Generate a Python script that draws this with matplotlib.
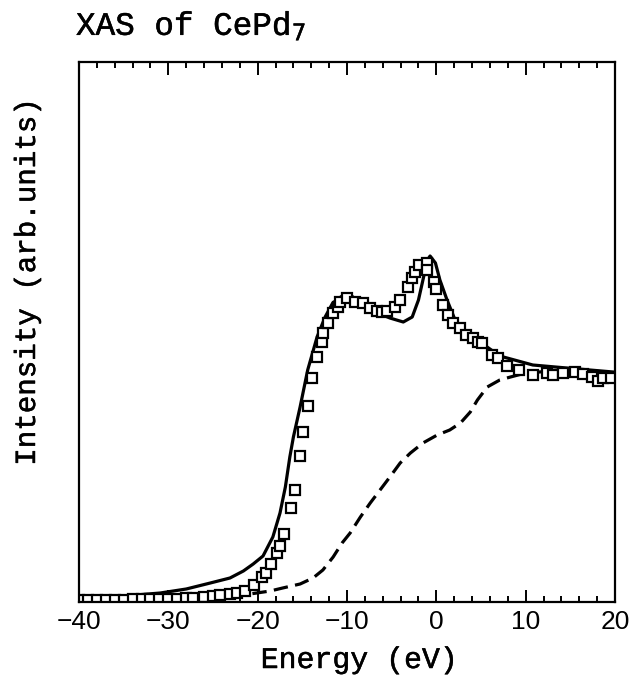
import numpy as np
import matplotlib
matplotlib.use("Agg")
import matplotlib.pyplot as plt
import matplotlib.patheffects as pe

# solid line: calculated spectrum
calc_e = [-40, -35, -30.9, -28, -25.3, -23.1, -21.6, -20.5, -19.4, -18.3, -17.5, -16.9, -16.4, -16.0,
          -15.25, -14.4, -13.35, -12.45, -11.6, -10.4, -9.5, -8.5, -7.1, -5.2, -3.7, -2.7, -2.0, -1.5,
          -1.0, -0.7, -0.1, 0.4, 1.2, 2.1, 3.4, 4.9, 7.1, 10.8, 14.6, 19.8]
calc_i = [4, 6, 9, 13, 19, 24, 31, 38, 46, 65, 89, 115, 145, 165,
          195, 232, 265, 285, 299, 307, 306, 300, 291, 284, 280, 285, 302, 322,
          342, 346, 339, 322, 302, 282, 269, 260, 246, 237, 234, 230]

# dashed line: second component
dash_e = [-40, -30, -24, -20.1, -18.6, -17.2, -15.25, -13.8, -12.7, -11.55, -10.55, -9.65, -8.5,
          -7.4, -6.3, -5.2, -4.05, -2.9, -1.5, 0.1, 1.5, 2.7, 3.8, 4.6, 5.7, 7.1, 8.3, 10, 13, 16, 20]
dash_i = [1, 2, 4, 9, 11, 14, 18, 24, 32, 45, 59, 69, 85,
          99, 112, 125, 139, 149, 159, 167, 172, 179, 190, 202, 215, 222, 225, 229, 231, 231, 230]

# squares: measured spectrum
exp_e = [-40, -39, -38, -37, -36, -35, -34, -33, -32, -31, -30, -29, -28, -27.2, -26, -25,
         -24.2, -23.1, -22.3, -21.4, -20.4, -19.5, -19.1, -18.5, -17.8, -17.5, -17.0, -16.3,
         -15.8, -15.25, -14.9, -14.4, -13.9, -13.35, -12.8, -12.7, -12.1, -11.6, -11.0, -10.8,
         -10.0, -9.1, -8.2, -7.4, -6.6, -6.1, -5.5, -4.6, -4.05, -3.2, -2.7, -2.4, -1.9, -1.1,
         -1.0, -0.25, 0.0, 0.8, 1.3, 1.9, 2.7, 3.3, 4.1, 4.7, 5.1, 6.2, 6.9, 7.9, 9.2, 10.8,
         12.4, 13.1, 14.2, 15.5, 16.4, 17.4, 18.1, 18.7, 19.5]
exp_i = [2, 2, 2, 2, 2, 2, 3, 3, 3, 3, 3, 3, 4, 4, 5, 6,
         7, 8, 9, 11, 17, 25, 29, 38, 49, 56, 68, 94,
         112, 146, 170, 196, 224, 245, 260, 269, 279, 289, 295, 300,
         304, 300, 299, 294, 291, 290, 291, 295, 302, 315, 324, 330, 337, 339,
         332, 320, 313, 297, 287, 279, 274, 267, 264, 260, 259, 247, 244, 236, 232, 227,
         229, 227, 229, 230, 228, 225, 221, 224, 224]

fig = plt.figure(figsize=(6.35, 6.78), dpi=100)
ax = fig.add_axes([79/635, 76/678, 536/635, 540/678])

ax.plot(calc_e, calc_i, color="black", lw=2.3, solid_joinstyle="round")
ax.plot(dash_e, dash_i, color="black", lw=2.3, dashes=(4.5, 2.3))
ax.plot(exp_e, exp_i, ls="none", marker="s", ms=6.5, mfc="white", mec="black", mew=1.6)

ax.set_xlim(-40, 20)
ax.set_ylim(0, 540)
ax.set_xticks(np.arange(-40, 21, 10))
ax.set_xticks(np.arange(-40, 21, 2), minor=True)
ax.set_yticks([])
ax.tick_params(axis="x", which="both", direction="in", top=True, bottom=True, width=1.4, pad=6)
ax.tick_params(axis="x", which="major", length=9)
ax.tick_params(axis="x", which="minor", length=4.5)
for lab in ax.get_xticklabels():
    lab.set_fontfamily("Liberation Sans")
    lab.set_fontsize(19)
for sp in ax.spines.values():
    sp.set_linewidth(1.6)

# typewriter-like serif, thickened a little
font = "Liberation Mono"
thick = [pe.withStroke(linewidth=0.35, foreground="black")]
fig.text(359/635, 1 - 668/678, "Energy (eV)", family=font, fontsize=21.5,
         ha="center", va="baseline", path_effects=thick)
fig.text(27/635, 1 - 282/678, "Intensity (arb.units)", family=font, fontsize=21,
         ha="center", va="center", rotation=90, path_effects=thick)
fig.text(76/635, 1 - 35/678, "XAS of CePd$_7$", family=font, fontsize=23.5,
         ha="left", va="baseline", path_effects=thick)

fig.savefig("out.png", dpi=100)
